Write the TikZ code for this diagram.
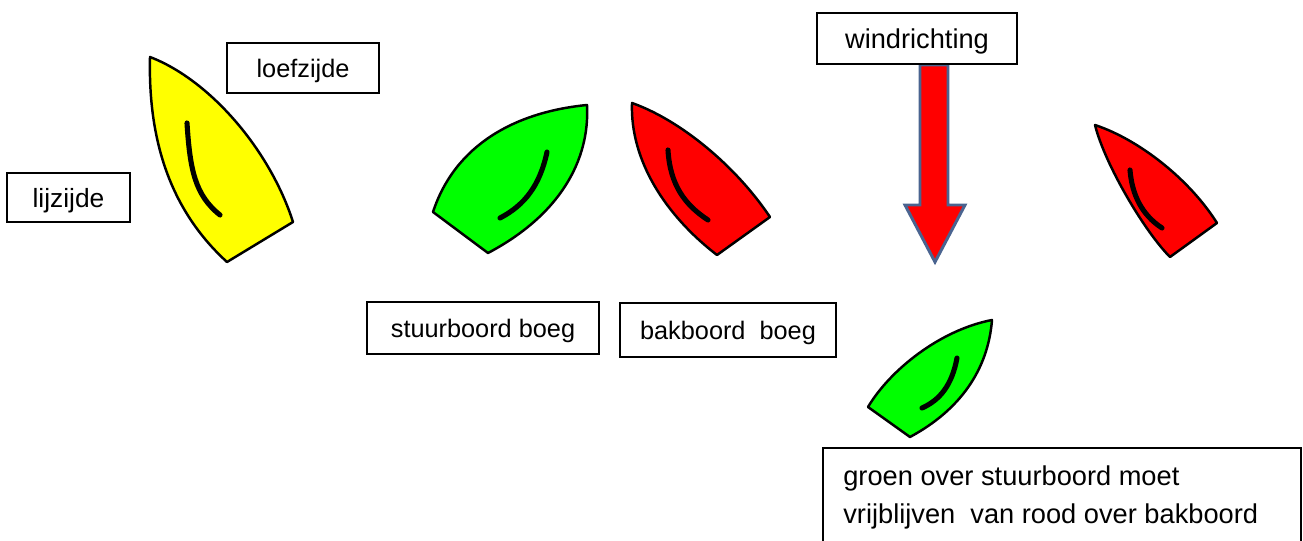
\documentclass[tikz,border=0pt]{standalone}
\usepackage{fontspec}
\setmainfont{Liberation Sans}
\definecolor{boatyellow}{RGB}{255,255,0}
\definecolor{boatgreen}{RGB}{0,255,0}
\definecolor{boatred}{RGB}{255,0,0}
\definecolor{arrowedge}{RGB}{74,100,144}
\tikzset{
  lbl/.style={draw=black, line width=1.1pt, fill=white, inner sep=0pt,
    text depth=0pt, font=\fontsize{14.4}{17}\selectfont},
  hull/.style={draw=black, line width=1.4pt, line join=round},
  tiller/.style={draw=black, line width=2.9pt, line cap=round},
  ruleline/.style={anchor=base west, inner sep=0pt, font=\fontsize{15.5}{19}\selectfont},
}
\begin{document}
\begin{tikzpicture}[x=0.02cm, y=-0.02cm]
\useasboundingbox (0,0) rectangle (1303,541);
\clip (0,0) rectangle (1303,541);

% yellow boat
\path[hull, fill=boatyellow] (150,57) .. controls (148,140) and (170,210) .. (227,262)
  -- (293,222) .. controls (270,150) and (210,80) .. (150,57) -- cycle;
\path[tiller] (187,123) .. controls (190,170) and (195,195) .. (220,215);

% green boat 1
\path[hull, fill=boatgreen] (587,105) .. controls (515,112) and (455,145) .. (433,212)
  -- (488,253) .. controls (560,215) and (590,160) .. (587,105) -- cycle;
\path[tiller] (547,152) .. controls (540,185) and (525,205) .. (500,218);

% red boat 1
\path[hull, fill=boatred] (632,103) .. controls (680,120) and (735,165) .. (770,217)
  -- (717,255) .. controls (665,215) and (630,160) .. (632,103) -- cycle;
\path[tiller] (668,150) .. controls (670,185) and (685,205) .. (708,220);

% red boat 2
\path[hull, fill=boatred] (1095,125) .. controls (1140,140) and (1190,180) .. (1217,223)
  -- (1170,257) .. controls (1145,232) and (1105,165) .. (1095,125) -- cycle;
\path[tiller] (1130,170) .. controls (1132,195) and (1142,215) .. (1162,228);

% green boat 2
\path[hull, fill=boatgreen] (992,320) .. controls (940,330) and (890,370) .. (868,407)
  -- (910,437) .. controls (960,410) and (988,370) .. (992,320) -- cycle;
\path[tiller] (957,358) .. controls (952,385) and (940,400) .. (922,408);

% wind arrow
\path[draw=arrowedge, line width=1.7pt, fill=boatred, line join=miter]
  (920,65) -- (948,65) -- (948,205) -- (965,205) -- (935,262) -- (905,205) -- (920,205) -- cycle;

% labels
\node[lbl, minimum width=3.04cm, minimum height=1.0cm] (loef) at (303,68) {loefzijde};
\node[lbl, minimum width=2.46cm, minimum height=0.98cm, font=\fontsize{15}{18}\selectfont] (lij) at (68.5,197.5) {lijzijde};
\node[lbl, minimum width=4.0cm, minimum height=1.02cm, font=\fontsize{15.5}{18}\selectfont] (wind) at (917,38.5) {windrichting};
\node[lbl, minimum width=4.64cm, minimum height=1.04cm] (stuur) at (483,328) {stuurboord boeg};
\node[lbl, minimum width=4.32cm, minimum height=1.08cm] (bak) at (728,330) {bakboord\ \ boeg};

% rule box (runs off the bottom)
\node[lbl, anchor=north west, minimum width=9.56cm, minimum height=3cm] (rulebox) at (822,447) {};
\node[ruleline] (rule1) at (843,485) {groen over stuurboord moet};
\node[ruleline] (rule2) at (843,523) {vrijblijven\ \ van rood over bakboord};
\end{tikzpicture}
\end{document}
